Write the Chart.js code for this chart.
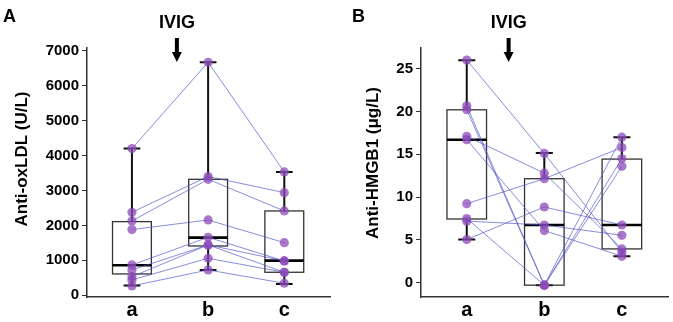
<!DOCTYPE html>
<html lang="en">
<head>
    <meta charset="UTF-8">
    <title>Anti-oxLDL / Anti-HMGB1</title>
    <script src="https://cdn.jsdelivr.net/npm/chart.js"></script>
    <style>
        body {
            margin: 0;
            background: #fff;
        }

        #wrap {
            position: relative;
            width: 673px;
            height: 322px;
        }

        .panel {
            position: absolute;
            top: 0;
            height: 322px;
        }

        #panelA { left: 0; width: 336px; }
        #panelB { left: 336px; width: 337px; }
    </style>
</head>
<body>
    <div id="wrap">
        <div class="panel" id="panelA"><canvas id="chartA"></canvas></div>
        <div class="panel" id="panelB"><canvas id="chartB"></canvas></div>
    </div>

    <script>
        // categories (time points)
        const categories = ['a', 'b', 'c'];

        // Panel A: anti-oxLDL (U/L), one row per patient [a, b, c]
        const oxldlSubjects = [
            [4200, 6670, 3530],
            [2375, 3400, 2937],
            [2127, 3320, 2413],
            [1880, 2155, 1505],
            [867, 1660, 982],
            [724, 1440, 982],
            [532, 1440, 658],
            [438, 1059, 658],
            [266, 724, 343]
        ];
        const oxldlLow = [277, 725, 324];
        const oxldlQ1 = [610, 1411, 658];
        const oxldlMedian = [858, 1650, 992];
        const oxldlQ3 = [2108, 3319, 2413];
        const oxldlHigh = [4200, 6670, 3530];
        const oxldlTicks = [0, 1000, 2000, 3000, 4000, 5000, 6000, 7000];

        // Panel B: anti-HMGB1 (ug/L)
        const hmgbSubjects = [
            [26.0, 15.1, 3.6],
            [20.65, -0.27, 17.0],
            [20.2, -0.27, 14.5],
            [17.1, 12.8, 3.96],
            [16.7, 6.1, 3.1],
            [9.24, 12.15, 15.8],
            [7.5, -0.27, 13.6],
            [7.2, 6.75, 5.55],
            [5.05, 8.85, 6.75]
        ];
        const hmgbLow = [5.05, -0.27, 3.1];
        const hmgbQ1 = [7.45, -0.27, 3.96];
        const hmgbMedian = [16.69, 6.75, 6.75];
        const hmgbQ3 = [20.19, 12.15, 14.44];
        const hmgbHigh = [25.97, 15.14, 17.0];
        const hmgbTicks = [0, 5, 10, 15, 20, 25];

        const FONT = "'Liberation Sans', Arial, sans-serif";

        // box plot + annotations drawn with the chart's own scales
        const boxPlugin = {
            id: 'boxes',
            beforeDatasetsDraw(chart) {
                const b = chart.options.plugins.boxes;
                const ctx = chart.ctx;
                const xs = chart.scales.x, ys = chart.scales.y;
                const step = xs.getPixelForValue(1) - xs.getPixelForValue(0);
                const half = step * 0.255;
                const cap = step * 0.11;
                ctx.save();
                b.median.forEach((m, i) => {
                    const x = xs.getPixelForValue(i);
                    const yLo = ys.getPixelForValue(b.low[i]);
                    const yQ1 = ys.getPixelForValue(b.q1[i]);
                    const yMed = ys.getPixelForValue(m);
                    const yQ3 = ys.getPixelForValue(b.q3[i]);
                    const yHi = ys.getPixelForValue(b.high[i]);
                    // whiskers
                    ctx.strokeStyle = '#111';
                    ctx.lineWidth = 2;
                    ctx.beginPath();
                    ctx.moveTo(x, yHi); ctx.lineTo(x, yQ3);
                    ctx.moveTo(x, yQ1); ctx.lineTo(x, yLo);
                    ctx.moveTo(x - cap, yHi); ctx.lineTo(x + cap, yHi);
                    ctx.moveTo(x - cap, yLo); ctx.lineTo(x + cap, yLo);
                    ctx.stroke();
                    // box
                    ctx.strokeStyle = '#333';
                    ctx.lineWidth = 1.3;
                    ctx.strokeRect(x - half, yQ3, half * 2, yQ1 - yQ3);
                    // median
                    ctx.strokeStyle = '#000';
                    ctx.lineWidth = 2.6;
                    ctx.beginPath();
                    ctx.moveTo(x - half, yMed); ctx.lineTo(x + half, yMed);
                    ctx.stroke();
                });
                ctx.restore();
            },
            afterDraw(chart) {
                const b = chart.options.plugins.boxes;
                const ctx = chart.ctx;
                const xs = chart.scales.x;
                ctx.save();
                ctx.fillStyle = '#000';
                // panel letter
                ctx.font = 'bold 18px ' + FONT;
                ctx.textAlign = 'left';
                ctx.textBaseline = 'alphabetic';
                ctx.fillText(b.letter, b.letterX, 22);
                // IVIG label and arrow
                const ax = xs.getPixelForValue(b.ivigAt);
                ctx.textAlign = 'center';
                ctx.fillText('IVIG', ax, 28);
                ctx.fillRect(ax - 2, 38, 4, 15);
                ctx.beginPath();
                ctx.moveTo(ax - 5, 52);
                ctx.lineTo(ax + 5, 52);
                ctx.lineTo(ax, 62);
                ctx.closePath();
                ctx.fill();
                // y axis title
                ctx.translate(b.titleX, b.titleY);
                ctx.rotate(-Math.PI / 2);
                ctx.font = 'bold 17px ' + FONT;
                ctx.textBaseline = 'middle';
                ctx.fillText(b.title, 0, 0);
                ctx.restore();
            }
        };

        function makePanel(canvasId, subjects, stats, ticks, yMin, yMax, plug) {
            const datasets = subjects.map(row => ({
                data: row.map((v, i) => ({ x: i, y: v })),
                borderColor: 'rgba(80, 85, 200, 0.85)',
                borderWidth: 0.8,
                pointRadius: 4.6,
                pointHoverRadius: 4.6,
                pointBorderWidth: 0,
                pointBackgroundColor: 'rgba(140, 75, 185, 0.75)',
                tension: 0
            }));

            return new Chart(document.getElementById(canvasId), {
                type: 'line',
                data: { datasets: datasets },
                plugins: [boxPlugin],
                options: {
                    responsive: true,
                    maintainAspectRatio: false,
                    animation: false,
                    layout: { padding: { top: 48, right: plug.padRight, left: 0, bottom: 0 } },
                    scales: {
                        x: {
                            type: 'linear',
                            min: -0.59,
                            max: 2.6,
                            afterBuildTicks: s => { s.ticks = categories.map((c, i) => ({ value: i })); },
                            afterFit: s => { s.height = 25; },
                            ticks: {
                                callback: v => categories[v],
                                color: '#000',
                                padding: 1,
                                font: { family: FONT, size: 20, weight: 700 }
                            },
                            grid: { display: true, drawOnChartArea: false, drawTicks: false },
                            border: { display: true, color: '#333', width: 1.5 }
                        },
                        y: {
                            min: yMin,
                            max: yMax,
                            afterBuildTicks: s => { s.ticks = ticks.map(v => ({ value: v })); },
                            afterFit: s => { s.width = plug.axisWidth; },
                            ticks: {
                                callback: v => String(v),
                                color: '#000',
                                padding: 3,
                                font: { family: FONT, size: 15, weight: 700 }
                            },
                            grid: { drawOnChartArea: false, drawTicks: true, tickLength: 5, color: '#333' },
                            border: { display: true, color: '#333', width: 1.5 }
                        }
                    },
                    plugins: {
                        legend: { display: false },
                        tooltip: { enabled: false },
                        boxes: Object.assign({}, stats, plug)
                    }
                }
            });
        }

        makePanel('chartA', oxldlSubjects,
            { low: oxldlLow, q1: oxldlQ1, median: oxldlMedian, q3: oxldlQ3, high: oxldlHigh },
            oxldlTicks, -50, 7078,
            { letter: 'A', letterX: 3, ivigAt: 0.59, title: 'Anti-oxLDL (U/L)', titleX: 22, titleY: 159,
              axisWidth: 87, padRight: 6 });

        makePanel('chartB', hmgbSubjects,
            { low: hmgbLow, q1: hmgbQ1, median: hmgbMedian, q3: hmgbQ3, high: hmgbHigh },
            hmgbTicks, -1.65, 27.4,
            { letter: 'B', letterX: 16, ivigAt: 0.54, title: 'Anti-HMGB1 (\u03bcg/L)', titleX: 37, titleY: 163,
              axisWidth: 85, padRight: 1 });
    </script>
</body>
</html>
